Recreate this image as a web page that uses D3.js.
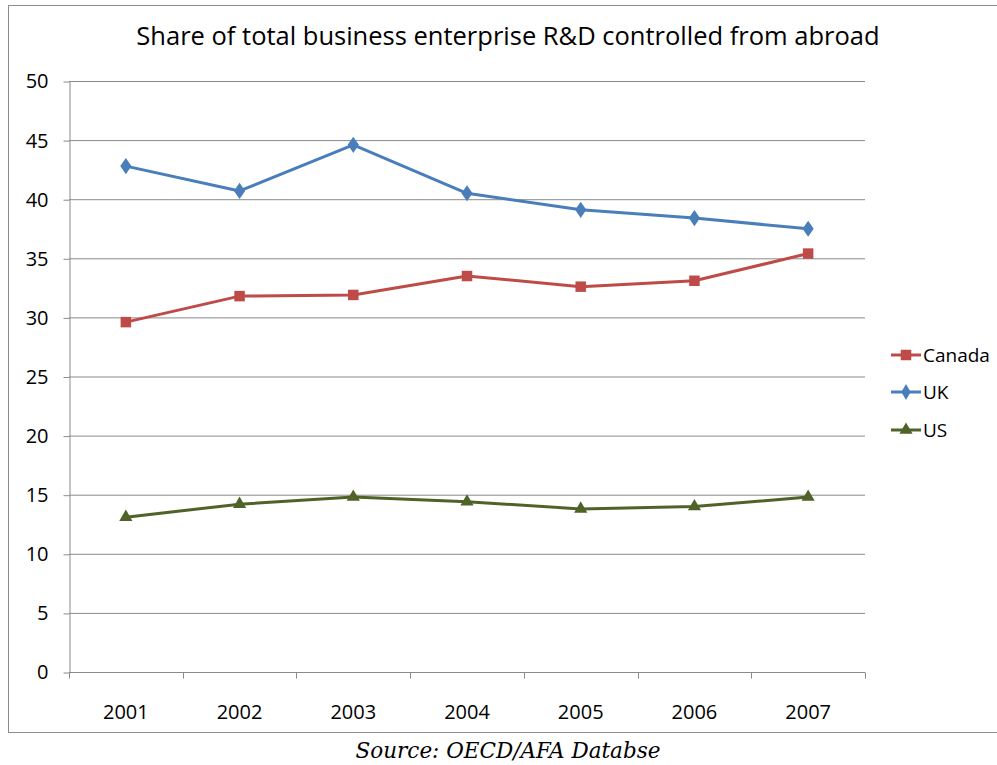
<!DOCTYPE html>
<html>
<head>
<meta charset="utf-8">
<script src="https://cdn.jsdelivr.net/npm/d3@7"></script>
<style>
  body { margin: 0; background: #fff; }
  text { font-family: "Open Sans", "Noto Sans", sans-serif; fill: #000; }
</style>
</head>
<body>
<script>
// data
var years = ["2001", "2002", "2003", "2004", "2005", "2006", "2007"];
var canada = [29.6, 31.8, 31.9, 33.5, 32.6, 33.1, 35.4];
var uk = [42.8, 40.7, 44.6, 40.5, 39.1, 38.4, 37.5];
var us = [13.1, 14.2, 14.8, 14.4, 13.8, 14.0, 14.8];
var yTicks = [0, 5, 10, 15, 20, 25, 30, 35, 40, 45, 50];
var seriesNames = ["Canada", "UK", "US"];

var series = [
  {name: "Canada", values: canada, color: "#be4b48", shape: d3.symbolSquare, size: 110},
  {name: "UK", values: uk, color: "#4a7ebb", shape: d3.symbolDiamond, size: 75},
  {name: "US", values: us, color: "#4f6228", shape: d3.symbolTriangle, size: 75}
];

var width = 997, height = 765;
var plotLeft = 69, plotRight = 865, plotTop = 81, plotBottom = 672;

var svg = d3.select("body")
  .append("svg")
  .attr("width", width)
  .attr("height", height);

// chart border
svg.append("rect")
  .attr("x", 8.5).attr("y", 5.5)
  .attr("width", 995).attr("height", 727)
  .attr("fill", "none")
  .attr("stroke", "#8c8c8c")
  .attr("stroke-width", 1);

var x = d3.scaleBand().domain(years).range([plotLeft, plotRight]);
var y = d3.scaleLinear().domain([0, 50]).range([plotBottom, plotTop]);

// gridlines
svg.append("g")
  .selectAll("line")
  .data(yTicks.filter(function(d){ return d > 0; }))
  .enter().append("line")
  .attr("x1", plotLeft).attr("x2", plotRight)
  .attr("y1", function(d){ return y(d) + 0.5; })
  .attr("y2", function(d){ return y(d) + 0.5; })
  .attr("stroke", "#8a8a8a")
  .attr("stroke-width", 1);

// y axis
var yAxis = svg.append("g")
  .attr("transform", "translate(" + (plotLeft + 0.5) + ",0.5)")
  .call(d3.axisLeft(y).tickValues(yTicks).tickSize(6).tickSizeOuter(0).tickPadding(15));
yAxis.select(".domain").attr("stroke", "#8a8a8a");
yAxis.selectAll(".tick line").attr("stroke", "#8a8a8a");
yAxis.selectAll("text")
  .style("font-size", "20px")
  .style("font-family", "'Open Sans', sans-serif")
  .attr("fill", "#000");

// x axis
var xAxis = svg.append("g")
  .attr("transform", "translate(0," + (plotBottom + 0.5) + ")");
xAxis.append("line")
  .attr("x1", plotLeft).attr("x2", plotRight)
  .attr("stroke", "#8a8a8a");
xAxis.selectAll(".tk")
  .data(years.concat(["end"]))
  .enter().append("line")
  .attr("class", "tk")
  .attr("x1", function(d, i){ return Math.round(plotLeft + i * x.bandwidth()) + 0.5; })
  .attr("x2", function(d, i){ return Math.round(plotLeft + i * x.bandwidth()) + 0.5; })
  .attr("y1", 0).attr("y2", 6)
  .attr("stroke", "#8a8a8a");
xAxis.selectAll("text")
  .data(years)
  .enter().append("text")
  .attr("x", function(d){ return x(d) + x.bandwidth() / 2; })
  .attr("y", 46)
  .attr("text-anchor", "middle")
  .style("font-size", "20px")
  .text(function(d){ return d; });

// lines
var line = d3.line()
  .x(function(d, i){ return x(years[i]) + x.bandwidth() / 2; })
  .y(function(d){ return y(d); });

series.forEach(function(s){
  var g = svg.append("g");
  g.append("path")
    .datum(s.values)
    .attr("d", line)
    .attr("fill", "none")
    .attr("stroke", s.color)
    .attr("stroke-width", 3)
    .attr("stroke-linejoin", "round");
  g.selectAll("path.m")
    .data(s.values)
    .enter().append("path")
    .attr("class", "m")
    .attr("d", d3.symbol().type(s.shape).size(s.size))
    .attr("transform", function(d, i){
      var sy = s.shape === d3.symbolDiamond ? "scale(1.2,1)" : "";
      return "translate(" + (x(years[i]) + x.bandwidth() / 2) + "," + y(d) + ")" + sy;
    })
    .attr("fill", s.color);
});

// legend
var legendY = [355, 392, 430];
var legend = svg.append("g");
series.forEach(function(s, i){
  var lg = legend.append("g").attr("transform", "translate(891," + legendY[i] + ")");
  lg.append("line").attr("x1", 0).attr("x2", 30)
    .attr("stroke", s.color).attr("stroke-width", 3);
  lg.append("path")
    .attr("d", d3.symbol().type(s.shape).size(s.size))
    .attr("transform", "translate(15,0)")
    .attr("fill", s.color);
  lg.append("text")
    .attr("x", 32).attr("y", 7)
    .style("font-size", "19px")
    .text(seriesNames[i]);
});

// title
svg.append("text")
  .attr("x", 508).attr("y", 45)
  .attr("text-anchor", "middle")
  .style("font-size", "25.5px")
  .text("Share of total business enterprise R&D controlled from abroad");

// source
svg.append("text")
  .attr("x", 508).attr("y", 758)
  .attr("text-anchor", "middle")
  .style("font-family", "'DejaVu Serif', serif")
  .style("font-style", "italic")
  .style("font-size", "21.5px")
  .text("Source: OECD/AFA Databse");
</script>
</body>
</html>
